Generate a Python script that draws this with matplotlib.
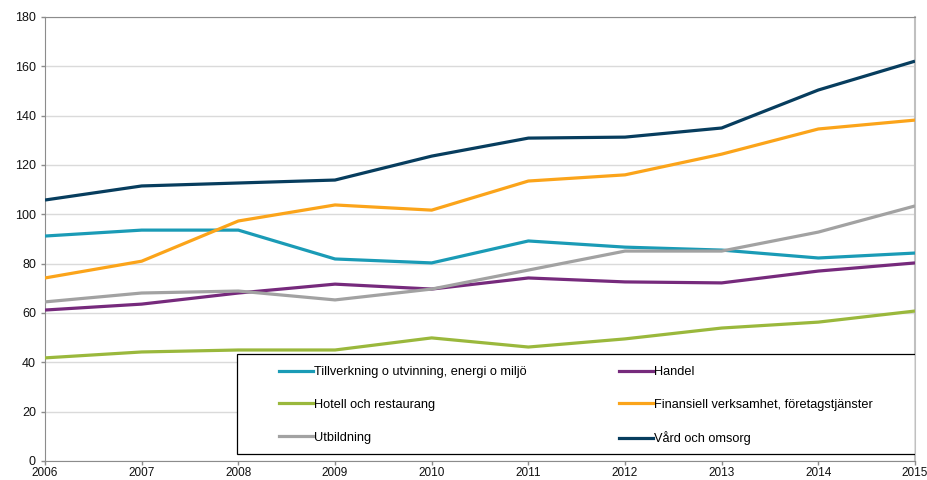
import matplotlib
matplotlib.use('Agg')
import matplotlib.pyplot as plt
from matplotlib.patches import Rectangle
from matplotlib.lines import Line2D

plt.rcParams['font.family'] = ['Liberation Sans', 'DejaVu Sans']

years = [2006, 2007, 2008, 2009, 2010, 2011, 2012, 2013, 2014, 2015]

tillverkning = [91.2, 93.6, 93.6, 81.9, 80.3, 89.2, 86.7, 85.5, 82.3, 84.3]
handel = [61.2, 63.6, 68.1, 71.7, 69.7, 74.2, 72.6, 72.2, 77.0, 80.3]
hotell = [41.8, 44.2, 45.0, 45.0, 49.9, 46.2, 49.5, 53.9, 56.3, 60.8]
finansiell = [74.2, 81.0, 97.3, 103.8, 101.7, 113.5, 116.0, 124.4, 134.6, 138.2]
utbildning = [64.5, 68.1, 68.9, 65.3, 69.7, 77.4, 85.1, 85.1, 92.8, 103.4]
vard = [105.8, 111.5, 112.7, 113.9, 123.6, 130.9, 131.3, 135.0, 150.4, 162.1]

labels = ['Tillverkning o utvinning, energi o miljö', 'Handel',
          'Hotell och restaurang', 'Finansiell verksamhet, företagstjänster',
          'Utbildning', 'Vård och omsorg']
series = [tillverkning, handel, hotell, finansiell, utbildning, vard]
colors = ['#1A9BB6', '#762A7C', '#9AB83C', '#FBA41A', '#A2A2A2', '#073D5E']

fig = plt.figure(figsize=(9.28, 4.8), dpi=100)
ax = fig.add_axes([0.0485, 0.0396, 0.9375, 0.925])

for vals, col in zip(series, colors):
    ax.plot(years, vals, color=col, lw=2.3, solid_capstyle='butt', zorder=3)

ax.set_xlim(2006, 2015)
ax.set_ylim(0, 180)
ax.set_xticks(years)
ax.set_yticks(range(0, 181, 20))
ax.yaxis.grid(True, color='#DADADA', lw=1)
ax.set_axisbelow(True)
ax.tick_params(labelsize=9, colors='#8C8C8C', labelcolor='#111111', length=3, width=1)
ax.tick_params(axis='x', labelsize=8.5, pad=1.2)
for side in ['left', 'bottom', 'top']:
    ax.spines[side].set_color('#8C8C8C')
ax.spines['right'].set_color('#C0C0C0')
ax.spines['right'].set_linewidth(1.5)

# legend frame
ax.add_patch(Rectangle((0.2207, 0.0158), 0.7793, 0.225, transform=ax.transAxes,
                       fill=True, facecolor='white', edgecolor='black', lw=0.9, zorder=4))

# legend entries, two columns
order = [0, 2, 4, 1, 3, 5]
handles = [Line2D([], [], color=colors[i], lw=2.3) for i in order]
leg = ax.legend(handles, [labels[i] for i in order], ncol=2, frameon=False,
                loc='lower left', bbox_to_anchor=(0.269, 0.035),
                fontsize=9.2, handlelength=2.65, handletextpad=0.05,
                labelspacing=1.62, columnspacing=7.3, borderaxespad=0, borderpad=0)
leg.set_zorder(5)

fig.savefig('out.png', dpi=100)
